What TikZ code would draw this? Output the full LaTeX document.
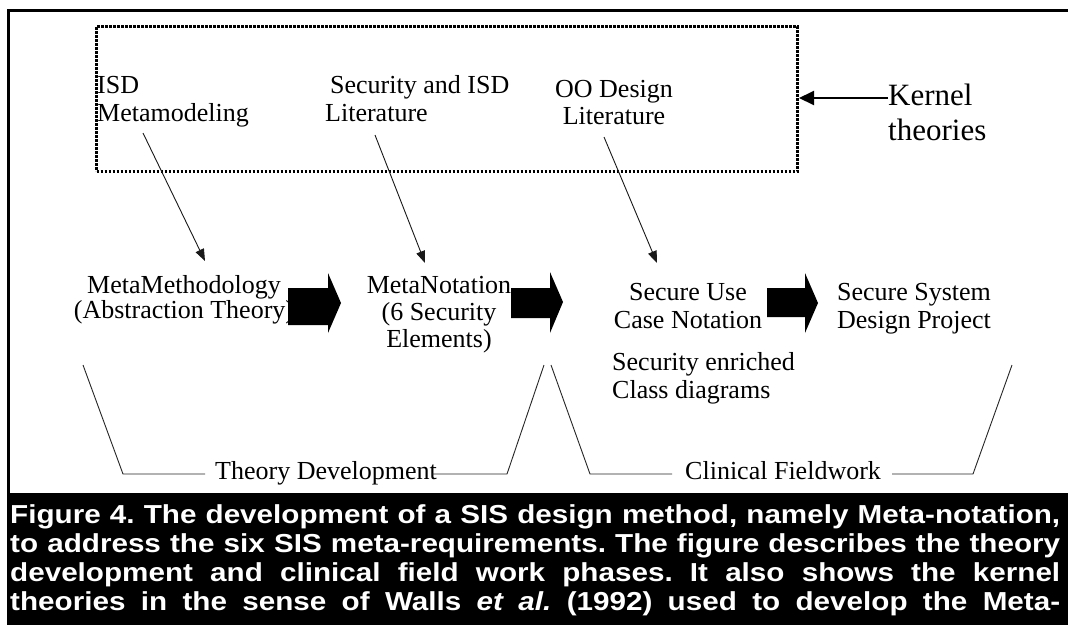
\documentclass[tikz,border=0pt]{standalone}
\usepackage{fontspec}
\setmainfont{Liberation Serif}
\newfontfamily\capfont[FakeStretch=1.14]{Liberation Sans}
\usetikzlibrary{arrows.meta}
\frenchspacing
\begin{document}
\begin{tikzpicture}[x=1pt,y=-1pt,
  lbl/.style={inner sep=0pt},
  fs/.style={font=\fontsize{26}{#1}\selectfont},
  thinarrow/.style={line width=0.9pt, draw=black!90, -{Triangle[length=12pt,width=9pt]}},
  karrow/.style={line width=2pt, -{Triangle[length=15pt,width=14pt]}},
  bracket/.style={line width=0.9pt, draw=black!85},
  blockarrow/.style={fill=black},
  dotbox/.style={draw, line width=3pt, dash pattern=on 2.4pt off 1.6pt, inner sep=0pt,
     minimum width=701pt, minimum height=145pt}
]
\useasboundingbox (0,0) rectangle (1068,625);
\fill[white] (0,0) rectangle (1068,625);
% caption area and frame
\fill[black] (7,493) rectangle (1068,625);
\draw[line width=3pt, line cap=rect] (8.5,494) -- (8.5,10) -- (1068,10);

% kernel theories box
\node[dotbox, anchor=north west] (kbox) at (95,25) {};

% top labels (base anchor = baseline of last line)
\node[lbl, fs=28, align=left, anchor=base west] (isd) at (97,121) {ISD\\Metamodeling};
\node[lbl, fs=28, align=left, anchor=base west] (secl) at (325,121) {\hspace*{5pt}Security and ISD\\Literature};
\node[lbl, fs=27, align=center, anchor=base] (ood) at (614,124) {OO Design\\Literature};
\node[lbl, font=\fontsize{31}{35}\selectfont, align=left, anchor=base west] (kern) at (888,140) {Kernel\\theories};

% middle labels
\node[lbl, fs=25, align=center, anchor=base] (mm) at (184,318) {MetaMethodology\\(Abstraction Theory)};
\node[lbl, fs=27, align=center, anchor=base] (mn) at (439,347) {MetaNotation\\(6 Security\\Elements)};
\node[lbl, fs=28, align=center, anchor=base] (suc) at (688,328) {Secure Use\\Case Notation};
\node[lbl, fs=28, align=left, anchor=base west] (sec) at (612,398) {Security enriched\\Class diagrams};
\node[lbl, fs=28, align=center, anchor=base] (ssd) at (914,328) {Secure System\\Design Project};

% phase labels
\node[lbl, fs=28, anchor=base west] (tdev) at (215,479) {Theory Development};
\node[lbl, fs=28, anchor=base west] (cfw) at (685,479) {Clinical Fieldwork};

% block arrows
\fill[blockarrow] (288,288) -- (328,288) -- (328,273) -- (341,303) -- (328,333) -- (328,325) -- (288,325) -- cycle;
\fill[blockarrow] (511,288) -- (550,288) -- (550,272) -- (563,302) -- (550,333) -- (550,318) -- (511,318) -- cycle;
\fill[blockarrow] (767,288) -- (805,288) -- (805,273) -- (818,303) -- (805,333) -- (805,317) -- (767,317) -- cycle;

% thin arrows from kernel theories
\coordinate (a1s) at (143,133); \coordinate (a1e) at (205,261);
\coordinate (a2s) at (375,135); \coordinate (a2e) at (425,263);
\coordinate (a3s) at (604,137); \coordinate (a3e) at (657,263);
\draw[thinarrow] (a1s) -- (a1e);
\draw[thinarrow] (a2s) -- (a2e);
\draw[thinarrow] (a3s) -- (a3e);

% kernel arrow
\coordinate (kst) at ([yshift=42pt]kern.base west);
\draw[karrow] (kst) -- (kst -| kbox.east);

% phase brackets
\draw[bracket] (83,365) -- (123,474) -- (205,474);
\draw[bracket] (432,474) -- (507,474) -- (544,365);
\draw[bracket] (551,365) -- (590,474) -- (672,474);
\draw[bracket] (892,474) -- (973,474) -- (1012,365);

% caption
\node[lbl, anchor=base west, align=left, text=white,
      font=\capfont\bfseries\fontsize{26}{29}\selectfont] (cap) at (10,610)
{\makebox[1050pt][s]{Figure 4. The development of a SIS design method, namely Meta-notation,}\\
 \makebox[1050pt][s]{to address the six SIS meta-requirements. The figure describes the theory}\\
 \makebox[1050pt][s]{development and clinical field work phases. It also shows the kernel}\\
 \makebox[1050pt][s]{theories in the sense of Walls \textit{et al.} (1992) used to develop the Meta-}};
\end{tikzpicture}
\end{document}
